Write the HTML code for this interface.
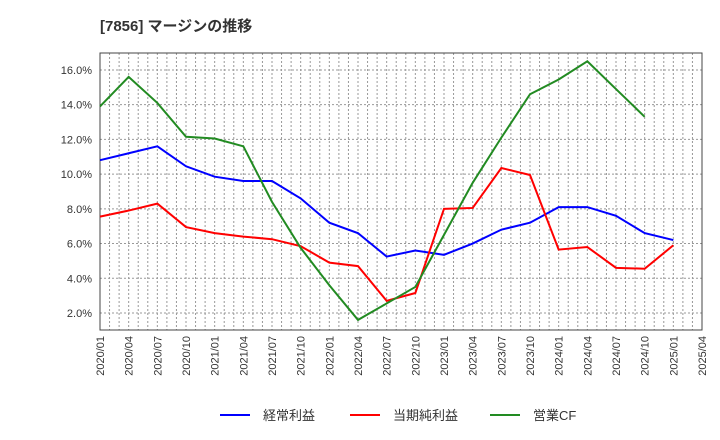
<!DOCTYPE html>
<html><head><meta charset="utf-8"><style>
body{margin:0;background:#fff;}
svg{display:block;font-family:"Liberation Sans","Noto Sans CJK JP",sans-serif;}
</style></head><body>
<svg id="c" width="720" height="440" xmlns="http://www.w3.org/2000/svg">
<text x="100" y="31" font-size="15" font-weight="bold" fill="#333">[7856]  マージンの推移</text>
<g id="grid"></g><g id="axes"></g><g id="series"></g><g id="legend"></g>
</svg>
<script>
const xLabels=["2020/01","2020/04","2020/07","2020/10","2021/01","2021/04","2021/07","2021/10","2022/01","2022/04","2022/07","2022/10","2023/01","2023/04","2023/07","2023/10","2024/01","2024/04","2024/07","2024/10","2025/01","2025/04"];
const yTicks=[2,4,6,8,10,12,14,16];
const keijo=[10.8,11.2,11.6,10.45,9.85,9.6,9.6,8.6,7.2,6.6,5.25,5.6,5.35,6.0,6.8,7.2,8.1,8.1,7.6,6.6,6.2];
const junri=[7.55,7.9,8.3,6.95,6.6,6.4,6.25,5.85,4.9,4.7,2.7,3.15,8.0,8.05,10.35,9.95,5.65,5.8,4.6,4.55,5.9];
const eigyoCF=[13.9,15.6,14.1,12.15,12.05,11.6,8.4,5.75,3.6,1.6,2.55,3.5,6.5,9.5,12.1,14.6,15.45,16.5,14.9,13.3];
const L=100,R=702,T=53,B=330;
const X=i=>L+i*(R-L)/(xLabels.length-1);
const Y=v=>347.7-v*17.36;
const NS="http://www.w3.org/2000/svg";
function mk(p,tag,at){const e=document.createElementNS(NS,tag);for(const k in at)e.setAttribute(k,at[k]);p.appendChild(e);return e;}
const grid=document.getElementById('grid'),axes=document.getElementById('axes'),ser=document.getElementById('series'),leg=document.getElementById('legend');
const nMonths=(xLabels.length-1)*3;
for(let m=1;m<nMonths;m++){const x=L+m*(R-L)/nMonths;const l=mk(grid,'line',{x1:x,x2:x,y1:T,y2:B,stroke:'#999','stroke-width':1,'stroke-dasharray':'2,2'});

}
yTicks.forEach(v=>{const l=mk(grid,'line',{x1:L,x2:R,y1:Y(v),y2:Y(v),stroke:'#999','stroke-width':1,'stroke-dasharray':'2,2'});


const t=mk(axes,'text',{x:L-8,y:Y(v)+4,'text-anchor':'end','font-size':11,fill:'#333'});t.textContent=v.toFixed(1)+'%';

});
xLabels.forEach((s,i)=>{const t=mk(axes,'text',{x:0,y:0,'text-anchor':'end','font-size':11,fill:'#333',transform:`translate(${X(i)+4},${B+6}) rotate(-90)`});t.textContent=s;

});
const fr=mk(axes,'rect',{x:L,y:T,width:R-L,height:B-T,fill:'none',stroke:'#444','stroke-width':1});


function line(d,c,n){const p=mk(ser,'polyline',{points:d.map((v,i)=>X(i)+','+Y(v)).join(' '),fill:'none',stroke:c,'stroke-width':2});

}
line(keijo,'#0000ff','keijo-rieki-line');
line(junri,'#ff0000','junri-line');
line(eigyoCF,'#228b22','eigyo-cf-line');
[["経常利益","#0000ff",220],["当期純利益","#ff0000",350],["営業CF","#228b22",490]].forEach(([s,c,x])=>{
const g=mk(leg,'g',{});


mk(g,'line',{x1:x,x2:x+30,y1:415,y2:415,stroke:c,'stroke-width':2});
const t=mk(g,'text',{x:x+43,y:420,'font-size':13,fill:'#333'});t.textContent=s;});
</script>
</body></html>
